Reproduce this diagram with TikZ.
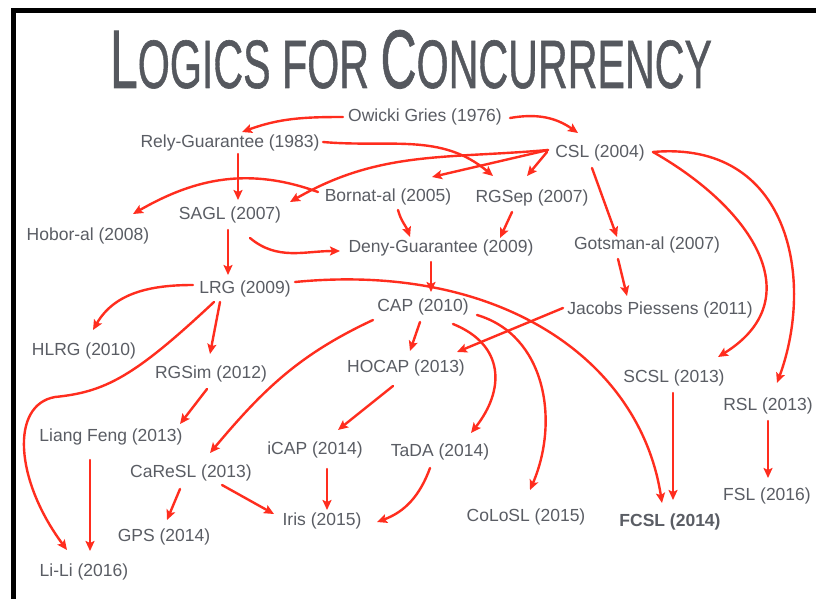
\documentclass[tikz,border=0pt]{standalone}
\usepackage{graphicx}
\usepackage{fontspec}
\setmainfont{Liberation Sans}
\newfontfamily\titlefont[FakeBold=0.9]{Liberation Sans}
\usetikzlibrary{arrows.meta}
\definecolor{ink}{HTML}{5A5D64}
\definecolor{titleink}{HTML}{55585E}
\definecolor{arrowred}{HTML}{FF2D1E}
\begin{document}
\begin{tikzpicture}[x=1pt,y=-1pt,
  lbl/.style={text=ink,font=\fontsize{17.5}{20}\selectfont,inner sep=1pt},
  link/.style={draw=arrowred,line width=2.4pt,line cap=round,
    -{Stealth[length=10pt,width=9pt,inset=2pt]}},
]
\useasboundingbox (0,0) rectangle (816,599);
\fill[white] (0,0) rectangle (816,599);
% frame
\draw[line width=5pt] (13.5,599) -- (13.5,10.5) -- (816,10.5);

% title
\node[anchor=base,text=titleink,inner sep=0pt] (title) at (411,88)
  {\resizebox{602pt}{58pt}{\titlefont\fontsize{80}{80}\selectfont L\fontsize{66}{66}\selectfont OGICS FOR
   \fontsize{80}{80}\selectfont C\fontsize{66}{66}\selectfont ONCURRENCY}};

% logics
\node[lbl] (ow)     at (425,117) {Owicki Gries (1976)};
\node[lbl] (rg)     at (230,143) {Rely-Guarantee (1983)};
\node[lbl] (csl)    at (600,153) {CSL (2004)};
\node[lbl] (bor)    at (388,197) {Bornat-al (2005)};
\node[lbl] (rgsep)  at (532,198) {RGSep (2007)};
\node[lbl] (sagl)   at (230,215) {SAGL (2007)};
\node[lbl] (hob)    at (88,236)  {Hobor-al (2008)};
\node[lbl] (deny)   at (441,248) {Deny-Guarantee (2009)};
\node[lbl] (gots)   at (647,245) {Gotsman-al (2007)};
\node[lbl] (lrg)    at (245,289) {LRG (2009)};
\node[lbl] (cap)    at (423,307) {CAP (2010)};
\node[lbl] (jp)     at (660,310) {Jacobs Piessens (2011)};
\node[lbl] (hlrg)   at (84,351)  {HLRG (2010)};
\node[lbl] (rgsim)  at (211,374) {RGSim (2012)};
\node[lbl] (hocap)  at (406,368) {HOCAP (2013)};
\node[lbl] (scsl)   at (674,378) {SCSL (2013)};
\node[lbl] (rsl)    at (768,406) {RSL (2013)};
\node[lbl] (lf)     at (111,437) {Liang Feng (2013)};
\node[lbl] (icap)   at (315,450) {iCAP (2014)};
\node[lbl] (tada)   at (440,452) {TaDA (2014)};
\node[lbl] (caresl) at (191,473) {CaReSL (2013)};
\node[lbl] (fsl)    at (767,496) {FSL (2016)};
\node[lbl] (iris)   at (322,521) {Iris (2015)};
\node[lbl] (colosl) at (526,517) {CoLoSL (2015)};
\node[lbl,font=\fontsize{17.5}{20}\selectfont\bfseries] (fcsl) at (670,522) {FCSL (2014)};
\node[lbl] (gps)    at (164,537) {GPS (2014)};
\node[lbl] (lili)   at (84,572)  {Li-Li (2016)};

% influences
\draw[link] ([shift={(-82,0)}]ow.center) to[out=180,in=20] ([shift={(12,-11)}]rg.center);
\draw[link] ([shift={(85,1)}]ow.center) to[out=10,in=145] ([shift={(-22,-20)}]csl.center);
\draw[link] ([shift={(93,-1)}]rg.center) to[out=-5,in=140] ([shift={(-39,-22)}]rgsep.center);
\draw[link] ([shift={(-52,-3)}]csl.center) to[out=185,in=30] ([shift={(60,-13)}]sagl.center);
\draw[link] ([shift={(-52,-3)}]csl.center) -- ([shift={(44,-20)}]bor.center);
\draw[link] ([shift={(-53,-1)}]csl.center) -- ([shift={(-5,-22)}]rgsep.center);
\draw[link] ([shift={(8,11)}]rg.center) -- ([shift={(8,-15)}]sagl.center);
\draw[link] ([shift={(-70,-5)}]bor.center) to[out=160,in=30] ([shift={(45,-22)}]hob.center);
\draw[link] ([shift={(10,13)}]bor.center) to[out=-75,in=110] ([shift={(-31,-11)}]deny.center);
\draw[link] ([shift={(-20,14)}]rgsep.center) -- ([shift={(59,-10)}]deny.center);
\draw[link] ([shift={(-8,15)}]csl.center) -- ([shift={(-30,-8)}]gots.center);
\draw[link] ([shift={(53,-1)}]csl.center) .. controls +(102,58) and +(92,-57) .. ([shift={(44,-21)}]scsl.center);
\draw[link] ([shift={(53,-1)}]csl.center) .. controls +(137,-12) and +(38,-103) .. ([shift={(9,-23)}]rsl.center);
\draw[link] ([shift={(-10,14)}]deny.center) -- ([shift={(8,-15)}]cap.center);
\draw[link] ([shift={(-2,15)}]sagl.center) -- ([shift={(-17,-14)}]lrg.center);
\draw[link] ([shift={(20,23)}]sagl.center) to[out=-40,in=180] ([shift={(-101,3)}]deny.center);
\draw[link] ([shift={(50,-7)}]lrg.center) .. controls +(205,-20) and +(-22,-143) .. ([shift={(-8,-19)}]fcsl.center);
\draw[link] ([shift={(-52,-4)}]lrg.center) to[out=180,in=60] ([shift={(9,-21)}]hlrg.center);
\draw[link] ([shift={(-25,13)}]lrg.center) -- ([shift={(-1,-20)}]rgsim.center);
\coordinate (lilibend) at (55,397);
\draw[link] ([shift={(-31,13)}]lrg.center) .. controls +(-80,75) and +(50,-5) .. (lilibend)
   .. controls +(-45,8) and +(-52,-70) .. ([shift={(-17,-22)}]lili.center);
\draw[link] ([shift={(-4,15)}]rgsim.center) -- ([shift={(69,-13)}]lf.center);
\draw[link] ([shift={(-50,13)}]cap.center) to[out=-155,in=50] ([shift={(19,-20)}]caresl.center);
\draw[link] ([shift={(-3,15)}]cap.center) -- ([shift={(4,-17)}]hocap.center);
\draw[link] ([shift={(-97,-2)}]jp.center) -- ([shift={(51,-16)}]hocap.center);
\draw[link] ([shift={(-29,14)}]gots.center) -- ([shift={(-33,-14)}]jp.center);
\draw[link] ([shift={(30,17)}]cap.center) .. controls +(52,21) and +(34,-43) .. ([shift={(31,-19)}]tada.center);
\draw[link] ([shift={(54,8)}]cap.center) .. controls +(68,20) and +(30,-70) .. ([shift={(4,-27)}]colosl.center);
\draw[link] ([shift={(-13,18)}]hocap.center) -- ([shift={(23,-20)}]icap.center);
\draw[link] ([shift={(12,19)}]icap.center) -- ([shift={(5,-11)}]iris.center);
\draw[link] ([shift={(-10,16)}]tada.center) to[out=-110,in=20] ([shift={(55,1)}]iris.center);
\draw[link] ([shift={(31,12)}]caresl.center) -- ([shift={(-48,-7)}]iris.center);
\draw[link] ([shift={(-11,16)}]caresl.center) -- ([shift={(3,-17)}]gps.center);
\draw[link] ([shift={(-21,23)}]lf.center) -- ([shift={(6,-21)}]lili.center);
\draw[link] ([shift={(-1,15)}]scsl.center) -- ([shift={(3,-22)}]fcsl.center);
\draw[link] ([shift={(0,15)}]rsl.center) -- ([shift={(1,-18)}]fsl.center);
\end{tikzpicture}
\end{document}
